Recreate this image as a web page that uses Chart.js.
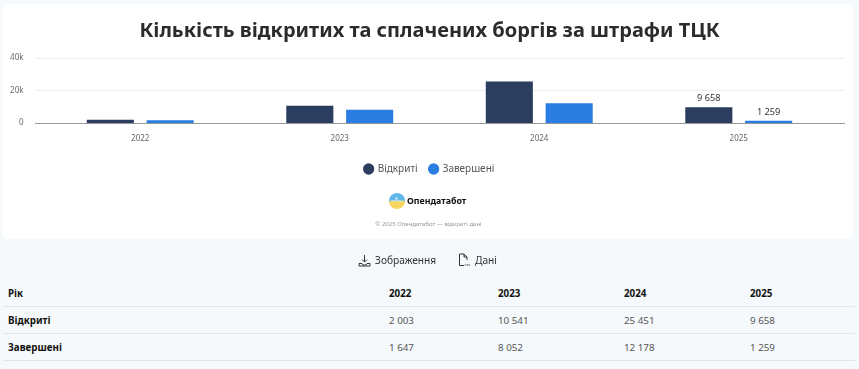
<!DOCTYPE html>
<html lang="uk">
<head>
<meta charset="utf-8">
<title>Кількість відкритих та сплачених боргів за штрафи ТЦК</title>
<script src="https://cdn.jsdelivr.net/npm/chart.js@4"></script>
<style>
    html, body { margin: 0; padding: 0; background: #f5f9fb; overflow: hidden; font-family: "Noto Sans", sans-serif; }
    #page { position: relative; width: 859px; height: 369px; overflow: hidden; }
    #card { position: absolute; left: 2px; top: 4px; width: 851px; height: 235px; background: #fff; border-radius: 6px; }
    #graphique { position: absolute; left: 0; top: 0; }
    #logo { position: absolute; left: 389px; top: 193px; display: flex; align-items: center; font-size: 8.8px; font-weight: 700; color: #111; }
    #logo svg { margin-right: 2px; }
    #copy { position: absolute; left: 0; width: 857px; top: 220px; text-align: center; font-size: 6px; color: #999; }
    #actions { position: absolute; top: 251px; left: 0; width: 859px; font-size: 10.2px; color: #333; }
    #actions span { position: absolute; top: 0; display: flex; align-items: center; line-height: 18px; }
    #actions svg { margin-right: 4px; }
    table { position: absolute; left: 3px; top: 280px; width: 852px; border-collapse: collapse; table-layout: fixed; font-size: 9.8px; color: #555; }
    td, th { height: 26px; padding: 0 0 0 5px; border-bottom: 1px solid #dfe6ea; text-align: left; font-weight: 400; }
    th { font-weight: 700; color: #111; }
</style>
</head>
<body>
<div id="page">
    <div id="card"></div>
    <canvas id="graphique" width="859" height="239"></canvas>
    <div id="logo">
        <svg width="16" height="16" viewBox="0 0 15 15">
            <defs><linearGradient id="g" x1="0" y1="0" x2="0" y2="1">
                <stop offset="0.45" stop-color="#5fb7ea"/><stop offset="0.55" stop-color="#f6d65a"/>
            </linearGradient></defs>
            <circle cx="7.5" cy="7.5" r="7.5" fill="url(#g)"/>
            <path d="M2 7.5H6L7 4L8 7.5H13" stroke="#fff" stroke-width="0.7" fill="none"/>
        </svg>
        Опендатабот
    </div>
    <div id="copy">© 2025 Опендатабот — відкриті дані</div>
    <div id="actions">
        <span style="left:358px">
            <svg width="13" height="13" viewBox="0 0 13 13" fill="none" stroke="#333" stroke-width="1"><path d="M6.5 1V8M4 5.5L6.5 8L9 5.5M1 9.5H4L5 11H8L9 9.5H12V12H1Z"/></svg>
            Зображення
        </span>
        <span style="left:458px">
            <svg width="13" height="14" viewBox="0 0 13 14" fill="none" stroke="#333" stroke-width="1"><path d="M6 12.5H1.5V1H6L9 4V7M6 1V4H9"/><text x="6.5" y="13" font-size="4" stroke="none" fill="#333">csv</text></svg>
            Дані
        </span>
    </div>
    <table id="tableau"></table>
</div>
<script>
const years = ['2022', '2023', '2024', '2025'];
const opened = [2003, 10541, 25451, 9658];
const closed = [1647, 8052, 12178, 1259];
const labelledYear = '2025';

function formatNumber(v) {
    return String(v).replace(/\B(?=(\d{3})+$)/g, ' ');
}

document.addEventListener('DOMContentLoaded', function () {
    // Table under the chart
    const rows = [['Рік'].concat(years), ['Відкриті'].concat(opened.map(formatNumber)), ['Завершені'].concat(closed.map(formatNumber))];
    const widths = [381, 109, 126, 126, 110];
    let html = '<colgroup>' + widths.map(w => `<col style="width:${w}px">`).join('') + '</colgroup>';
    rows.forEach((row, r) => {
        html += '<tr>' + row.map((cell, c) => (r === 0 || c === 0) ? `<th>${cell}</th>` : `<td>${cell}</td>`).join('') + '</tr>';
    });
    document.getElementById('tableau').innerHTML = html;

    // Grid lines run a little past the plot area on both sides
    const wideGrid = {
        id: 'wideGrid',
        beforeDatasetsDraw(chart) {
            const ctx = chart.ctx;
            const y = chart.scales.y;
            y.ticks.forEach(t => {
                const py = Math.round(y.getPixelForValue(t.value)) + 0.5;
                ctx.save();
                ctx.strokeStyle = '#eeeeee';
                ctx.beginPath();
                ctx.moveTo(35, py);
                ctx.lineTo(845, py);
                ctx.stroke();
                ctx.restore();
            });
        },
        afterDatasetsDraw(chart) {
            const ctx = chart.ctx;
            const py = Math.round(chart.scales.y.getPixelForValue(0)) + 0.5;
            ctx.save();
            ctx.strokeStyle = '#999999';
            ctx.lineWidth = 1;
            ctx.beginPath();
            ctx.moveTo(35, py);
            ctx.lineTo(845, py);
            ctx.stroke();
            ctx.restore();
        }
    };

    // Values above the bars of the last year only
    const lastLabels = {
        id: 'lastLabels',
        afterDatasetsDraw(chart) {
            const ctx = chart.ctx;
            const idx = years.indexOf(labelledYear);
            chart.data.datasets.forEach((ds, i) => {
                const bar = chart.getDatasetMeta(i).data[idx];
                ctx.save();
                ctx.font = '9.2px "Noto Sans"';
                ctx.fillStyle = '#333';
                ctx.textAlign = 'center';
                ctx.textBaseline = 'bottom';
                ctx.fillText(formatNumber(ds.data[idx]), bar.x, bar.y - 4);
                ctx.restore();
            });
        }
    };

    new Chart(document.getElementById('graphique').getContext('2d'), {
        type: 'bar',
        data: {
            labels: years,
            datasets: [{
                label: 'Відкриті',
                data: opened,
                backgroundColor: '#2c3e60'
            }, {
                label: 'Завершені',
                data: closed,
                backgroundColor: '#2a7de1'
            }]
        },
        options: {
            responsive: false,
            animation: false,
            categoryPercentage: 0.6,
            barPercentage: 0.787,
            layout: { padding: { left: 0, right: 0, top: 0, bottom: 55 } },
            plugins: {
                title: {
                    display: true,
                    text: 'Кількість відкритих та сплачених боргів за штрафи ТЦК',
                    color: '#2b2b2b',
                    font: { family: '"Noto Sans"', size: 20, weight: 'bold' },
                    padding: { top: 19, bottom: 15 }
                },
                legend: {
                    position: 'bottom',
                    labels: {
                        usePointStyle: true,
                        pointStyle: 'circle',
                        boxWidth: 8,
                        boxHeight: 8,
                        padding: 12,
                        color: '#555',
                        font: { family: '"Noto Sans"', size: 10 }
                    }
                },
                tooltip: { enabled: false }
            },
            scales: {
                x: {
                    afterFit(scale) { scale.height += 5.5; },
                    grid: { display: false },
                    border: { display: false },
                    ticks: { color: '#666', font: { family: '"Noto Sans"', size: 8 }, padding: 3 }
                },
                y: {
                    min: 0,
                    max: 40000,
                    afterFit(scale) { scale.width = 40.5; },
                    grid: { display: false },
                    border: { display: false },
                    ticks: {
                        stepSize: 20000,
                        color: '#666',
                        font: { family: '"Noto Sans"', size: 8 },
                        padding: 9,
                        callback: v => v === 0 ? '0' : (v / 1000) + 'k'
                    }
                },
                // empty axis, only keeps the plot area clear of the right edge
                spacer: {
                    position: 'right',
                    afterFit(scale) { scale.width = 20.5; },
                    grid: { display: false },
                    border: { display: false },
                    ticks: { display: false }
                }
            }
        },
        plugins: [wideGrid, lastLabels]
    });
});
</script>
</body>
</html>
